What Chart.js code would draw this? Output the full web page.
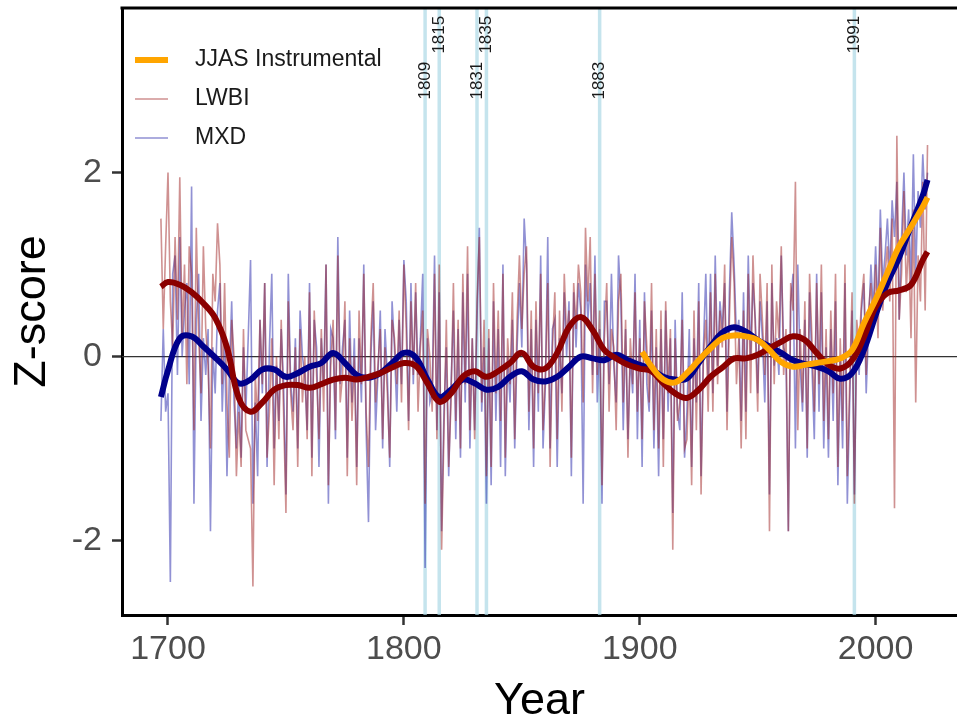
<!DOCTYPE html>
<html>
<head>
<meta charset="utf-8">
<script src="https://cdn.jsdelivr.net/npm/chart.js@4"></script>
<style>
  html, body { margin: 0; padding: 0; background: #fff; }
</style>
</head>
<body>
<canvas id="myChart" width="957" height="721"></canvas>
<script>
// annual z-scores, first value is 1697
const startYear = 1697;

const lwbi = [
  1.5, 0.3, 1.2,
  2.0, 0.6, 0.1, 1.3, 0.4, 1.95, 0.2, 1.0, -0.3, 1.2,
  0.9, -0.8, 1.4, 0.2, -0.4, 1.2, 0.3, -0.1, -1.0, 0.9,
  0.6, 1.45, 1.0, -0.3, 0.8, -0.5, -1.1, 0.4, 0.0, -1.3,
  -0.6, -1.2, 0.3, -0.8, -0.9, -1.0, -2.5, -0.2, -0.7, 0.4,
  -0.3, 0.8, -1.1, -0.6, 0.2, -1.4, 0.0, -0.9, 0.4, -0.6,
  -1.7, 0.6, -0.4, -0.8, 0.1, -1.2, 0.3, -0.5, 0.0, -0.9,
  0.7, -1.3, 0.5, -0.2, -0.9, 0.3, -0.6, 1.0, -1.4, -0.1,
  0.4, -0.8, 1.1, -0.5, -0.2, 0.6, -1.3, 0.2, -0.7, 0.0,
  -1.4, 0.5, -0.3, 0.9, -0.6, -1.2, 0.2, 0.8, -0.5, -0.1,
  0.3, -0.9, 0.1, -0.4, -1.1, 0.4, 0.2, -0.3, 0.5, -0.5,
  1.0, 0.3, -0.8, 0.6, -0.2, 0.8, -0.6, 0.1, 0.5, -1.6,
  0.3, 0.0, -0.6, 0.9, -0.9, 1.0, -2.1, -0.8, 0.4, -1.2,
  -0.5, 0.8, -0.7, 0.4, -1.0, 0.9, -0.3, 1.2, -0.8, 0.2,
  -0.9, 0.6, 1.3, -0.5, 0.4, -1.3, 0.3, -1.2, 0.8, -0.4,
  0.5, -0.7, 0.9, -1.1, 0.2, -0.3, 0.7, -0.9, 0.4, 1.1,
  0.3, 0.9, 1.2, -0.6, 0.5, -1.0, 0.6, -0.4, 0.9, -0.8,
  -0.2, 0.8, -1.2, 0.1, 0.7, -0.9, 0.5, -0.6, 0.9, 0.2,
  0.5, -1.1, 0.8, 0.3, 1.0, 0.7, -0.5, 1.4, 0.6, 1.3,
  -0.4, 0.9, -0.2, 0.5, -1.4, 0.2, 0.8, -0.6, 0.3, 0.1,
  -0.8, 0.6, 0.9, -0.5, 0.4, -1.1, 0.2, -0.3, 0.7, -0.6,
  0.2, -0.9, 0.6, 0.1, -0.5, 0.8, -0.8, 0.3, -1.0, 0.5,
  -1.2, 0.6, -0.4, 0.3, -2.1, 0.2, -0.7, -0.5, 0.4, -1.0,
  -0.9, -0.1, -1.4, 0.5, -0.8, 0.6, -1.5, 0.0, 0.4, -0.6,
  0.7, -0.6, 0.9, -0.3, 0.5, 0.1, 1.0, -0.8, 0.4, 1.3,
  0.8, -0.3, 0.2, -1.0, 0.5, -0.9, 0.9, -0.4, 1.1, 0.3,
  -0.6, 0.9, 0.4, -0.2, 0.8, -1.9, 1.0, -0.3, 0.6, 0.2,
  1.2, -0.2, 0.3, -1.9, 0.8, 0.5, 1.9, -0.8, 0.3, -0.5,
  0.6, -1.0, 0.9, 0.2, -0.6, 0.8, -0.3, 1.0, -0.7, 0.3,
  -0.9, 0.5, -0.4, 0.9, -1.2, 0.2, -0.7, 1.0, -1.3, -0.3,
  0.7, -1.6, 0.4, 0.1, 0.6, 0.9, -0.2, 0.5, 0.8, 0.3,
  1.0, 0.2, 1.4, 0.5, 0.9, 1.2, 0.6, 1.5, -1.65, 2.4,
  0.4, 0.9, 1.8, 0.7, 1.3, 0.2, 1.6, -0.5, 1.1, 0.6,
  1.9, 0.5, 2.3
];

const mxd = [
  -0.7, 0.3, -0.6,
  -0.4, -2.45, 0.9, 1.1, -0.2, 1.3, 0.0, 0.5, 0.8, -0.3,
  1.85, -1.6, 0.4, 0.9, -0.7, 0.2, -0.2, 0.3, -1.9, 0.1,
  -0.4, 0.5, 0.8, -0.6, 0.2, -1.3, -0.2, 0.6, -0.5, -1.0,
  -0.3, -1.1, 0.1, -0.6, 0.2, 1.05, -1.6, -0.5, -1.3, 0.4,
  -0.4, 0.8, -1.2, 0.1, 0.9, -1.0, -0.1, -0.7, 0.3, -0.3,
  -1.5, 0.9, -0.3, -0.6, 0.2, -1.0, 0.5, 0.0, -0.2, -0.8,
  0.8, -1.1, 0.4, 0.1, -1.2, 0.2, -0.3, 1.0, -1.6, 0.3,
  0.2, -0.9, 1.3, -0.3, 0.1, 0.4, -1.1, 0.5, -0.5, 0.2,
  -1.2, 0.2, -0.5, 1.0, -0.8, -1.8, 0.0, 0.6, -0.8, -0.2,
  0.5, -1.0, 0.3, -0.2, -1.2, 0.6, 0.1, -0.6, 0.4, -0.3,
  1.05, 0.6, -0.7, 0.8, -0.3, 0.7, -0.2, 0.2, 0.9, -2.3,
  0.2, -0.5, -0.4, 1.1, -0.8, 0.7, -1.9, -0.6, 0.1, -1.3,
  -0.3, 0.5, -0.9, 0.3, -1.1, 0.7, -0.5, 0.9, -1.0, 0.2,
  -0.8, 0.4, 1.4, -0.6, 0.1, -1.6, 0.2, -1.4, 0.6, -0.7,
  0.3, -1.2, 1.0, -1.3, 0.0, -0.5, 0.4, -1.0, 0.1, 0.8,
  0.1, 1.5, 1.0, -0.8, 0.3, -1.2, 0.4, -0.6, 1.1, -1.0,
  -0.3, 1.3, -1.0, 0.3, 0.4, -1.2, 0.2, -0.4, 0.7, 0.0,
  0.6, -1.3, 0.7, 0.1, 0.8, 0.5, -1.6, 1.0, 0.4, 0.8,
  -0.2, 1.1, -0.5, 0.3, -1.6, 0.6, 0.6, -0.3, 0.9, -0.1,
  -0.5, 1.1, 0.6, -0.8, 0.3, -0.9, 0.0, -0.4, 0.9, -0.9,
  0.4, -1.2, 0.7, -0.3, -0.6, 0.5, -1.0, 0.1, -1.3, 0.3,
  -0.9, 0.5, -0.6, 0.2, -1.7, 0.4, -0.6, -0.8, 0.7, -1.1,
  -0.6, 0.3, -1.2, 0.2, -0.5, 0.8, -1.3, 0.1, 0.9, -0.3,
  0.9, -0.4, 1.1, -0.1, 0.6, 0.3, 0.8, -0.6, 0.7, 1.57,
  1.0, 0.2, 0.4, -0.7, 0.7, -0.6, 1.1, 0.0, 0.8, 0.4,
  -0.4, 0.6, 0.2, -0.5, 0.6, -1.5, 0.8, -0.1, 0.2, -0.2,
  1.1, 0.1, 0.0, -1.9, 0.6, 0.9, -1.0, 1.0, -0.1, -0.6,
  0.4, -1.1, 0.7, -0.1, -0.9, 0.9, -0.6, 0.7, -1.0, 0.1,
  -1.1, 0.3, -0.7, 0.6, -1.4, 0.0, -1.0, 0.8, -1.6, -0.5,
  0.5, -1.5, 0.2, -0.2, 0.5, 0.8, -0.4, 0.3, 1.0, 0.5,
  1.2, 0.5, 1.6, 0.8, 1.1, 1.5, 0.9, 1.7, 1.3, 1.9,
  0.4, 1.3, 2.0, 1.1, 1.6, 0.8, 2.2, 0.9, 1.8, 1.4,
  2.2, 1.6, 2.0
];

// smoothed curves (every 5 years)
const smoothYears = [1697, 1700, 1705, 1710, 1715, 1720, 1725, 1730, 1735, 1740,
  1745, 1750, 1755, 1760, 1765, 1770, 1775, 1780, 1785, 1790,
  1795, 1800, 1805, 1810, 1815, 1820, 1825, 1830, 1835, 1840,
  1845, 1850, 1855, 1860, 1865, 1870, 1875, 1880, 1885, 1890,
  1895, 1900, 1905, 1910, 1915, 1920, 1925, 1930, 1935, 1940,
  1945, 1950, 1955, 1960, 1965, 1970, 1975, 1980, 1985, 1990,
  1995, 2000, 2005, 2010, 2015, 2020, 2022];

const mxdSmooth = [-0.44, -0.15, 0.2, 0.22, 0.11, -0.01, -0.14, -0.29, -0.25, -0.14,
  -0.14, -0.22, -0.18, -0.11, -0.07, 0.04, -0.07, -0.2, -0.23, -0.18,
  -0.07, 0.04, -0.01, -0.25, -0.44, -0.36, -0.25, -0.29, -0.36, -0.33,
  -0.22, -0.16, -0.25, -0.27, -0.22, -0.11, 0.0, -0.02, -0.04, 0.02,
  -0.04, -0.09, -0.14, -0.22, -0.25, -0.24, -0.07, 0.11, 0.26, 0.32,
  0.27, 0.18, 0.11, 0.04, -0.04, -0.08, -0.11, -0.16, -0.24, -0.18,
  0.07, 0.45, 0.8, 1.08, 1.42, 1.75, 1.92];

const lwbiSmooth = [0.76, 0.81, 0.78, 0.7, 0.58, 0.42, 0.1, -0.45, -0.6, -0.5,
  -0.36, -0.31, -0.31, -0.34, -0.3, -0.25, -0.23, -0.25, -0.22, -0.18,
  -0.12, -0.07, -0.1, -0.29, -0.49, -0.4, -0.22, -0.16, -0.22, -0.16,
  -0.07, 0.04, -0.11, -0.13, 0.04, 0.32, 0.43, 0.29, 0.07, -0.02,
  -0.09, -0.13, -0.16, -0.29, -0.4, -0.45, -0.36, -0.22, -0.12, -0.02,
  -0.02, 0.02, 0.09, 0.16, 0.22, 0.18, 0.04, -0.09, -0.13, -0.04,
  0.21, 0.54, 0.69, 0.72, 0.78, 1.05, 1.14];

const jjasYears = [1901, 1905, 1910, 1915, 1920, 1925, 1930, 1935, 1940, 1945,
  1950, 1955, 1960, 1965, 1970, 1975, 1980, 1985, 1990, 1995,
  2000, 2005, 2010, 2015, 2020, 2022];
const jjasSmooth = [0.05, -0.11, -0.25, -0.28, -0.18, -0.04, 0.09, 0.2, 0.23, 0.22,
  0.18, 0.07, -0.06, -0.11, -0.09, -0.07, -0.05, -0.02, 0.07, 0.36,
  0.62, 0.91, 1.2, 1.41, 1.63, 1.73];

// volcanic eruption years and the height of their labels
const eventYears = [1809, 1815, 1831, 1835, 1883, 1991];
const eventLabelY = [3.0, 3.5, 3.0, 3.5, 3.0, 3.5];

const xTicks = [1700, 1800, 1900, 2000];
const yTicks = [-2, 0, 2];

const FONT = "'Liberation Sans', Arial, sans-serif";
const lwbiColor = "rgba(160, 35, 35, 0.5)";
const mxdColor = "rgba(35, 35, 170, 0.5)";
const jjasColor = "#FFA500";

const toPoints = (xs, ys) => ys.map((y, i) => ({ x: xs[i], y }));
const years = lwbi.map((_, i) => startYear + i);

const ctx = document.querySelector("#myChart").getContext("2d");

//eruption lines, zero line, top border and legend
const decorations = {
  id: "decorations",
  beforeDatasetsDraw(chart) {
    const { ctx, chartArea, scales } = chart;
    const { x, y } = scales;
    ctx.save();
    ctx.strokeStyle = "rgba(173, 216, 230, 0.7)";
    ctx.lineWidth = 3.5;
    eventYears.forEach((yr) => {
      const px = x.getPixelForValue(yr);
      ctx.beginPath();
      ctx.moveTo(px, chartArea.top);
      ctx.lineTo(px, chartArea.bottom);
      ctx.stroke();
    });
    ctx.strokeStyle = "#333";
    ctx.lineWidth = 1.3;
    const zy = y.getPixelForValue(0);
    ctx.beginPath();
    ctx.moveTo(chartArea.left, zy);
    ctx.lineTo(chartArea.right, zy);
    ctx.stroke();

    ctx.fillStyle = "#1a1a1a";
    ctx.font = "17px " + FONT;
    ctx.textAlign = "center";
    ctx.textBaseline = "middle";
    eventYears.forEach((yr, i) => {
      ctx.save();
      ctx.translate(x.getPixelForValue(yr), y.getPixelForValue(eventLabelY[i]));
      ctx.rotate(-Math.PI / 2);
      ctx.fillText(String(yr), 0, 0);
      ctx.restore();
    });
    ctx.restore();
  },
  afterDraw(chart) {
    const { ctx, chartArea } = chart;
    ctx.save();
    ctx.strokeStyle = "#000";
    ctx.lineWidth = 3;
    ctx.beginPath();
    ctx.moveTo(chartArea.left - 1.5, chartArea.top);
    ctx.lineTo(chartArea.right, chartArea.top);
    ctx.stroke();

    const items = [
      { text: "JJAS Instrumental", color: jjasColor, width: 6 },
      { text: "LWBI", color: lwbiColor, width: 1.6 },
      { text: "MXD", color: mxdColor, width: 1.6 },
    ];
    ctx.font = "23px " + FONT;
    ctx.textBaseline = "middle";
    ctx.textAlign = "left";
    items.forEach((it, i) => {
      const ly = 60 + i * 39;
      ctx.strokeStyle = it.color;
      ctx.lineWidth = it.width;
      ctx.beginPath();
      ctx.moveTo(135, ly);
      ctx.lineTo(168, ly);
      ctx.stroke();
      ctx.fillStyle = "#1a1a1a";
      ctx.fillText(it.text, 195, ly);
    });
    ctx.restore();
  },
};

const data = {
  datasets: [
    {
      label: "JJAS Instrumental",
      data: toPoints(jjasYears, jjasSmooth),
      borderColor: jjasColor,
      borderWidth: 6,
      tension: 0.4,
      order: 0,
    },
    {
      label: "LWBI smooth",
      data: toPoints(smoothYears, lwbiSmooth),
      borderColor: "#8B0000",
      borderWidth: 6,
      tension: 0.4,
      order: 1,
    },
    {
      label: "MXD smooth",
      data: toPoints(smoothYears, mxdSmooth),
      borderColor: "#00008B",
      borderWidth: 6,
      tension: 0.4,
      order: 2,
    },
    {
      label: "LWBI",
      data: toPoints(years, lwbi),
      borderColor: lwbiColor,
      borderWidth: 1.6,
      tension: 0,
      order: 3,
    },
    {
      label: "MXD",
      data: toPoints(years, mxd),
      borderColor: mxdColor,
      borderWidth: 1.6,
      tension: 0,
      order: 4,
    },
  ],
};

const tickFont = { family: FONT, size: 34 };
const titleFont = { family: FONT, size: 45, lineHeight: 1 };

const config = {
  type: "line",
  data: data,
  options: {
    responsive: false,
    animation: false,
    layout: { padding: { top: 8, right: 0, bottom: 0, left: 0 } },
    elements: { point: { radius: 0 } },
    scales: {
      x: {
        type: "linear",
        min: 1680.5,
        max: 2034.5,
        afterBuildTicks: (s) => {
          s.ticks = xTicks.map((v) => ({ value: v }));
        },
        afterFit: (s) => {
          s.height = 106;
          s.paddingLeft = 0;
          s.paddingRight = 0;
        },
        ticks: {
          color: "#4d4d4d",
          font: tickFont,
          padding: 4,
          maxRotation: 0,
          callback: (v) => String(v),
        },
        grid: {
          drawOnChartArea: false,
          drawTicks: true,
          tickLength: 10,
          tickColor: "#333",
          tickWidth: 2.5,
        },
        border: { display: true, color: "#000", width: 3 },
        title: {
          display: true,
          text: "Year",
          color: "#000",
          font: titleFont,
          padding: { top: 0, bottom: -3 },
        },
      },
      y: {
        type: "linear",
        min: -2.81,
        max: 3.79,
        afterBuildTicks: (s) => {
          s.ticks = yTicks.map((v) => ({ value: v }));
        },
        afterFit: (s) => {
          s.width = 122;
          s.paddingTop = 0;
          s.paddingBottom = 0;
        },
        ticks: {
          color: "#4d4d4d",
          font: tickFont,
          padding: 10,
          callback: (v) => String(v),
        },
        grid: {
          drawOnChartArea: false,
          drawTicks: true,
          tickLength: 10,
          tickColor: "#333",
          tickWidth: 2.5,
        },
        border: { display: true, color: "#000", width: 3 },
        title: {
          display: true,
          text: "Z-score",
          color: "#000",
          font: titleFont,
          padding: { top: 10, bottom: 0 },
        },
      },
    },
    plugins: {
      legend: { display: false },
      tooltip: { enabled: false },
    },
  },
  plugins: [decorations],
};

const myChart = new Chart(ctx, config);
</script>
</body>
</html>
